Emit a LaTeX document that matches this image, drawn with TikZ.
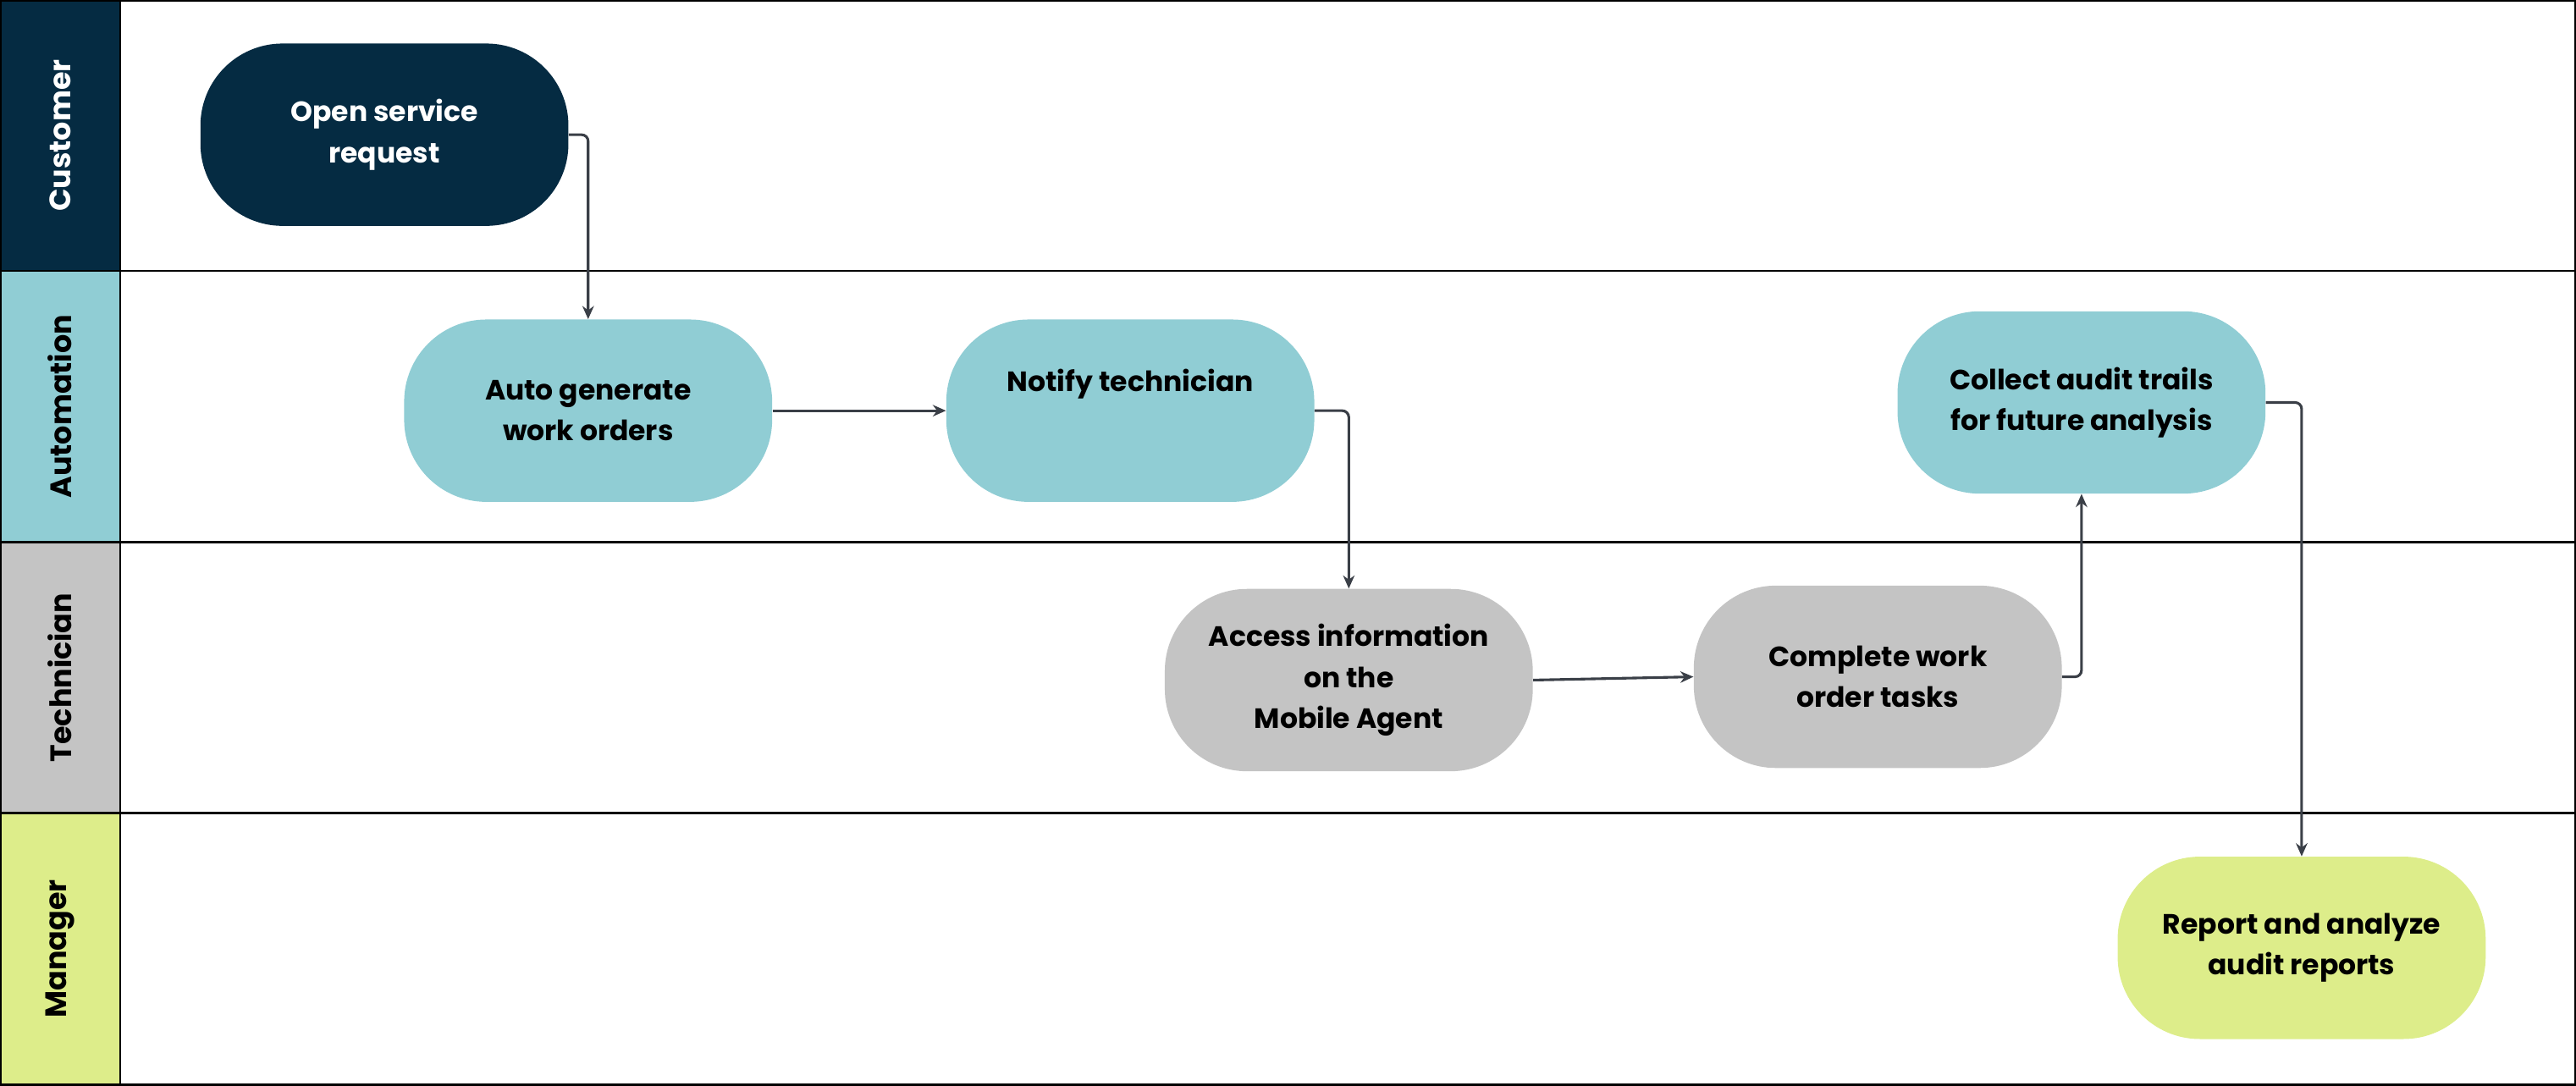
\documentclass[tikz,border=0pt]{standalone}
\usepackage{fontspec}
\setmainfont{Poppins}
\usetikzlibrary{arrows.meta}
\definecolor{navy}{HTML}{052B42}
\definecolor{teal}{HTML}{90CDD4}
\definecolor{greyb}{HTML}{C4C4C4}
\definecolor{lime}{HTML}{DDED8A}
\definecolor{arr}{HTML}{3A3F47}
\begin{document}
\begin{tikzpicture}[x=1pt,y=-1pt,
  proc/.style={minimum width=224pt,minimum height=111pt,rounded corners=50pt,align=center,font=\fontsize{17}{25}\selectfont\bfseries},
  lanelabel/.style={rotate=90,font=\fontsize{18}{22}\selectfont\bfseries},
  flow/.style={draw=arr,line width=1.6pt,-{Stealth[length=8pt,width=7pt]},rounded corners=4pt}]
\useasboundingbox (0,0) rectangle (1568,661);
\fill[navy] (0,0) rectangle (73,165);
\fill[teal] (0,165) rectangle (73,330);
\fill[greyb] (0,330) rectangle (73,495);
\fill[lime] (0,495) rectangle (73,660);
\draw[line width=1.2pt] (0.6,0.6) rectangle (1567.4,660.4);
\foreach \y in {165,330,495} \draw[line width=1.2pt] (0,\y) -- (1568,\y);
\draw[line width=1.2pt] (73,0) -- (73,661);
\node[lanelabel,text=white] (lc) at (36.5,82.5) {Customer};
\node[lanelabel] (la) at (36.5,247.5) {Automation};
\node[lanelabel] (lt) at (36.5,412.5) {Technician};
\node[lanelabel] (lm) at (36.5,577.5) {Manager};
\node[proc,fill=navy,text=white] (open) at (234,82) {Open service\\request};
\node[proc,fill=teal] (auto) at (358,250) {Auto generate\\work orders};
\node[proc,fill=teal] (notify) at (688,250) {Notify technician\\[12pt]};
\node[proc,fill=greyb] (access) at (821,414) {Access information\\on the\\Mobile Agent};
\node[proc,fill=greyb] (complete) at (1143,412) {Complete work\\order tasks};
\node[proc,fill=teal] (collect) at (1267,245) {Collect audit trails\\for future analysis};
\node[proc,fill=lime] (report) at (1401,577) {Report and analyze\\audit reports};
\draw[flow] (open.east) -| (auto.north);
\draw[flow] (auto) -- (notify);
\draw[flow] (notify.east) -| (access.north);
\draw[flow] (access.east) -- (complete.west);
\draw[flow] (complete.east) -| (collect.south);
\draw[flow] (collect.east) -| (report.north);
\end{tikzpicture}
\end{document}
